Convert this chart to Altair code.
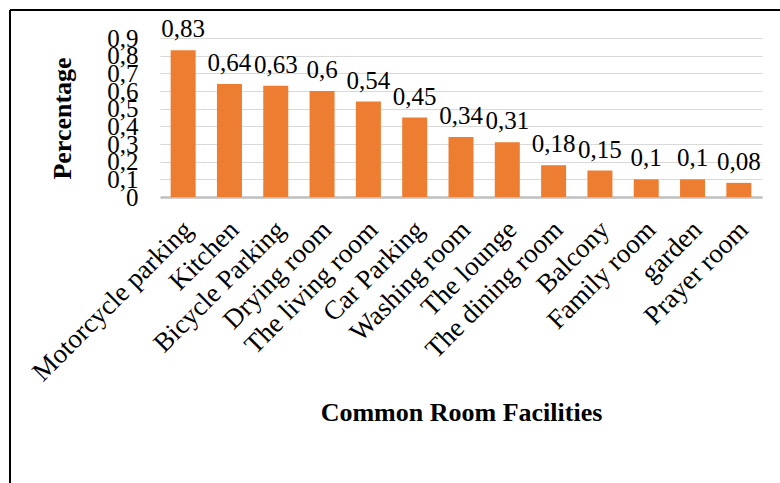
import altair as alt
import pandas as pd

categories = ["Motorcycle parking", "Kitchen", "Bicycle Parking", "Drying room",
              "The living room", "Car Parking", "Washing room", "The lounge",
              "The dining room", "Balcony", "Family room", "garden", "Prayer room"]
values = [0.83, 0.64, 0.63, 0.6, 0.54, 0.45, 0.34, 0.31, 0.18, 0.15, 0.1, 0.1, 0.08]
value_labels = [str(v).replace(".", ",") for v in values]
y_ticks = [0, 0.1, 0.2, 0.3, 0.4, 0.5, 0.6, 0.7, 0.8, 0.9]

df = pd.DataFrame({"facility": categories, "value": values, "label": value_labels})

FONT = "Liberation Serif"
ORANGE = "#ED7D31"

x_enc = alt.X(
    "facility:N", sort=categories, title="Common Room Facilities",
    scale=alt.Scale(paddingInner=0.46, paddingOuter=0.23),
    axis=alt.Axis(labelAngle=-45, labelFontSize=27, labelFont=FONT, labelColor="#000000",
                  labelPadding=19, labelOffset=-4, ticks=False, domainColor="#BFBFBF", domainWidth=2.5,
                  titleFontSize=26, titleFont=FONT, titleFontWeight="bold", titleColor="#000000",
                  titleY=215, titleBaseline="middle", labelOverlap=False, labelLimit=400),
)
y_enc = alt.Y(
    "value:Q", title="Percentage",
    scale=alt.Scale(domain=[0, 0.9], nice=False),
    axis=alt.Axis(values=y_ticks, tickCount=10,
                  labelExpr="datum.value == 0 ? '0' : replace(format(datum.value, '.1f'), '.', ',')",
                  labelFontSize=25, labelFont=FONT, labelColor="#000000", labelPadding=22,
                  labelOverlap=False, ticks=False, domain=False, labelBaseline="middle",
                  grid=True, gridColor="#D9D9D9", gridWidth=1,
                  titleFontSize=26, titleFont=FONT, titleFontWeight="bold", titleColor="#000000",
                  titleX=-98, titleY=80, titleAlign="center", titleBaseline="middle", titleAngle=-90),
)

bars = alt.Chart(df).mark_bar(color=ORANGE).encode(x=x_enc, y=y_enc)

text = alt.Chart(df).mark_text(font=FONT, fontSize=25, color="#000000", baseline="alphabetic", dy=-13).encode(
    x=x_enc,
    y=y_enc,
    text="label:N",
)

frame_df = pd.DataFrame({"k": [0]})
left_border = alt.Chart(frame_df).mark_rule(color="#000000", strokeWidth=2).encode(
    x=alt.value(-150), y=alt.value(-28), y2=alt.value(500))
top_border = alt.Chart(frame_df).mark_rule(color="#000000", strokeWidth=2).encode(
    x=alt.value(-150), x2=alt.value(700), y=alt.value(-28))

chart = alt.layer(bars, text, left_border, top_border).properties(
    width=602, height=159,
    autosize=alt.AutoSizeParams(type="none"),
    padding={"left": 160, "top": 38, "right": 18, "bottom": 286},
    background="#FFFFFF",
).configure_view(stroke=None)

chart.save("out.html", embed_options={"renderer": "svg", "actions": False})
